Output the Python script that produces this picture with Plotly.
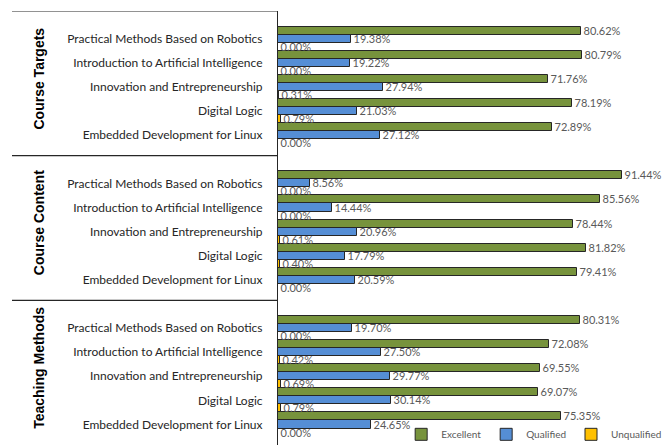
import plotly.graph_objects as go

groups = ["Course Targets", "Course Content", "Teaching Methods"]
courses = [
    "Practical Methods Based on Robotics",
    "Introduction to Artificial Intelligence",
    "Innovation and Entrepreneurship",
    "Digital Logic",
    "Embedded Development for Linux",
]
excellent = [
    [80.62, 80.79, 71.76, 78.19, 72.89],
    [91.44, 85.56, 78.44, 81.82, 79.41],
    [80.31, 72.08, 69.55, 69.07, 75.35],
]
qualified = [
    [19.38, 19.22, 27.94, 21.03, 27.12],
    [8.56, 14.44, 20.96, 17.79, 20.59],
    [19.70, 27.50, 29.77, 30.14, 24.65],
]
unqualified = [
    [0.00, 0.00, 0.31, 0.79, 0.00],
    [0.00, 0.00, 0.61, 0.40, 0.00],
    [0.00, 0.42, 0.69, 0.79, 0.00],
]
series_names = ["Excellent", "Qualified", "Unqualified"]
colors = ["#77933C", "#558ED5", "#FFC000"]

slot = 6          # category slots per group (5 courses + spacing)
top_pad = 1.15    # spacing above first course in each group (in slots)

ypos = []
ylabels = []
for g in range(len(groups)):
    for c, name in enumerate(courses):
        ypos.append(g * slot + c)
        ylabels.append(name)

def flat(a):
    return [v for row in a for v in row]

fig = go.Figure()
for name, vals, col in zip(series_names, [excellent, qualified, unqualified], colors):
    fig.add_trace(go.Bar(
        y=ypos, x=flat(vals), orientation="h", name=name,
        marker=dict(color=col, line=dict(color="#262626", width=1)),
        text=[f"{v:.2f}%" for v in flat(vals)],
        textposition="outside", constraintext="none", cliponaxis=False,
        textfont=dict(family="Lato", size=11, color="#595959"),
    ))

y_top = -top_pad
y_bot = len(groups) * slot - top_pad
plot_left, plot_w = 278, 376

shapes = []
for g in range(len(groups)):
    yb = g * slot - top_pad
    shapes.append(dict(type="line", xref="paper", yref="y",
                       x0=(12 - plot_left) / plot_w, x1=0, y0=yb, y1=yb,
                       line=dict(color="#262626", width=1.2)))

annotations = []
for g, gname in enumerate(groups):
    yc = g * slot - top_pad + slot / 2 - 0.2
    annotations.append(dict(
        text=f"<b>{gname}</b>", xref="paper", yref="y",
        x=(39 - plot_left) / plot_w, y=yc, textangle=-90,
        showarrow=False, xanchor="center", yanchor="middle",
        font=dict(family="Liberation Sans", size=14, color="#000000"),
    ))

fig.update_layout(
    width=671, height=445,
    margin=dict(l=plot_left, r=671 - plot_left - plot_w, t=11, b=0, autoexpand=False),
    paper_bgcolor="white", plot_bgcolor="white",
    barmode="group", bargap=0, bargroupgap=0,
    showlegend=True,
    legend=dict(orientation="h", x=1.035, xanchor="right", y=0.058, yanchor="top",
                font=dict(family="Lato", size=10, color="#595959"),
                bgcolor="rgba(0,0,0,0)", itemwidth=30, tracegroupgap=0),
    xaxis=dict(range=[0, 100], visible=False),
    yaxis=dict(range=[y_bot, y_top], tickvals=ypos, ticktext=ylabels,
               showgrid=False, zeroline=False, showline=True,
               linecolor="#262626", linewidth=1.2, ticks="",
               ticklabelstandoff=12,
               tickfont=dict(family="Lato", size=12, color="#262626")),
    shapes=shapes, annotations=annotations,
)

fig.write_html("out.html")
